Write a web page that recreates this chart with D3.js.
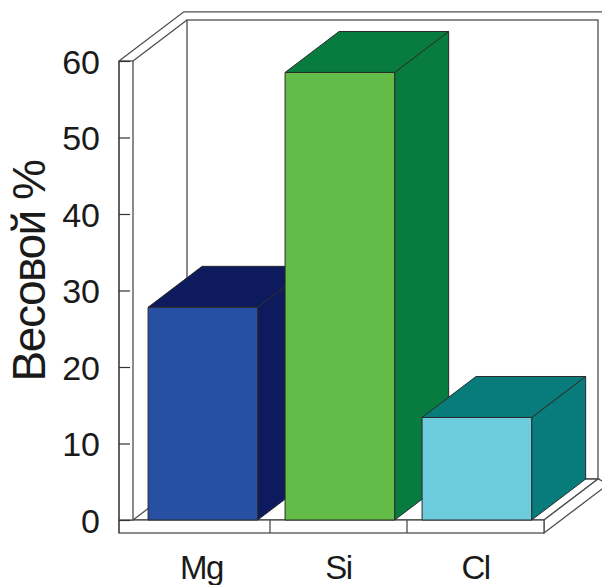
<!DOCTYPE html>
<html>
<head>
<meta charset="utf-8">
<script src="https://cdn.jsdelivr.net/npm/d3@7"></script>
<style>
  body { margin: 0; background: #fff; }
  text { font-family: "Liberation Sans", Arial, sans-serif; fill: #1a1a1a; }
</style>
</head>
<body>
<script>
// données
const categories = ["Mg", "Si", "Cl"];
const valeurs = [27.8, 58.5, 13.4];
const couleursFace = ["#2750a3", "#62bc47", "#6ccbdc"];
const couleursOmbre = ["#0e1a5e", "#077c3e", "#077c7a"];
const yTicks = [0, 10, 20, 30, 40, 50, 60];

const width = 602, height = 585;
const D = { x: 54, y: -41 };     // profondeur 3D
const murEp = 14, solEp = 13;    // epaisseur des murs
const ligne = "#4d4d4d";

const svg = d3.select("body").append("svg")
  .attr("width", width)
  .attr("height", height);

// echelles
const x = d3.scaleBand().domain(categories).range([133, 544]);
const y = d3.scaleLinear().domain([0, 60]).range([520, 61]);

const x0 = 119, xi = x0 + murEp;
const yBas = y(0), yHaut = y(60), ySol = yBas + solEp;
const xDroite = x.range()[1];

const pts = a => a.map(p => p.join(",")).join(" ");
const trait = (g, p) => g.append("polyline").attr("points", pts(p))
  .attr("fill", "none").attr("stroke", ligne).attr("stroke-width", 1.3);

const murs = svg.append("g");

// mur du fond
murs.append("rect")
  .attr("x", xi + D.x).attr("y", yHaut + D.y)
  .attr("width", xDroite - xi).attr("height", yBas - yHaut)
  .attr("fill", "#fff").attr("stroke", ligne).attr("stroke-width", 1.3);
trait(murs, [[x0, yHaut], [x0 + 1.2 * D.x, yHaut + 1.2 * D.y], [width + 20, yHaut + 1.2 * D.y]]);
trait(murs, [[xi, yHaut], [xi + D.x, yHaut + D.y]]);

// sol
murs.append("polygon")
  .attr("points", pts([[xi, yBas], [xDroite, yBas], [xDroite + D.x, yBas + D.y], [xi + D.x, yBas + D.y]]))
  .attr("fill", "#fff").attr("stroke", ligne).attr("stroke-width", 1.3);
murs.append("polygon")
  .attr("points", pts([[xDroite, yBas], [xDroite, ySol], [xDroite + 1.2 * D.x, ySol + 1.2 * D.y], [xDroite + D.x, yBas + D.y]]))
  .attr("fill", "#fff").attr("stroke", ligne).attr("stroke-width", 1.3);
murs.append("rect")
  .attr("x", x0).attr("y", yBas).attr("width", xDroite - x0).attr("height", solEp)
  .attr("fill", "#fff").attr("stroke", ligne).attr("stroke-width", 1.3);

// mur de gauche (face avant)
murs.append("rect")
  .attr("x", x0).attr("y", yHaut).attr("width", murEp).attr("height", yBas - yHaut)
  .attr("fill", "#fff").attr("stroke", ligne).attr("stroke-width", 1.3);
trait(murs, [[x0, yHaut], [x0, ySol]]);

// separateurs de categories
murs.selectAll(".sep")
  .data(categories.slice(1))
  .enter().append("line")
  .attr("x1", d => x(d)).attr("x2", d => x(d))
  .attr("y1", yBas).attr("y2", ySol)
  .attr("stroke", ligne).attr("stroke-width", 1.3);

// axe y
const axeY = svg.append("g")
  .attr("transform", `translate(${x0},0)`)
  .call(d3.axisLeft(y).tickValues(yTicks).tickSizeInner(-11).tickSizeOuter(0).tickPadding(19));
axeY.select(".domain").remove();
axeY.selectAll("line").attr("stroke", "#333").attr("stroke-width", 1.2);
axeY.selectAll("text").attr("font-size", 34).attr("dy", "0.36em");

// axe x (etiquettes)
const axeX = svg.append("g")
  .attr("transform", `translate(0,${yBas})`)
  .call(d3.axisBottom(x).tickSize(0).tickPadding(36));
axeX.select(".domain").remove();
axeX.selectAll("text").attr("font-size", 33).attr("letter-spacing", -1.5);

// barres
const bw = x.bandwidth();
const barres = svg.append("g");
categories.forEach((c, i) => {
  const x1 = x(c) + 0.11 * bw, x2 = x1 + 0.8 * bw;
  const yt = y(valeurs[i]);
  const g = barres.append("g")
    .attr("stroke", "#2a2a2a").attr("stroke-width", 1).attr("stroke-linejoin", "round");
  g.append("polygon")
    .attr("points", pts([[x2, yBas], [x2 + D.x, yBas + D.y], [x2 + D.x, yt + D.y], [x2, yt]]))
    .attr("fill", couleursOmbre[i]);
  g.append("polygon")
    .attr("points", pts([[x1, yt], [x2, yt], [x2 + D.x, yt + D.y], [x1 + D.x, yt + D.y]]))
    .attr("fill", couleursOmbre[i]);
  g.append("rect")
    .attr("x", x1).attr("y", yt).attr("width", x2 - x1).attr("height", yBas - yt)
    .attr("fill", couleursFace[i]);
});

// titre axe y
svg.append("text")
  .attr("transform", `translate(45,${(155 + 387) / 2}) rotate(-90)`)
  .attr("text-anchor", "middle")
  .attr("font-size", 46)
  .attr("letter-spacing", -1.5)
  .text("Весовой %");
</script>
</body>
</html>
